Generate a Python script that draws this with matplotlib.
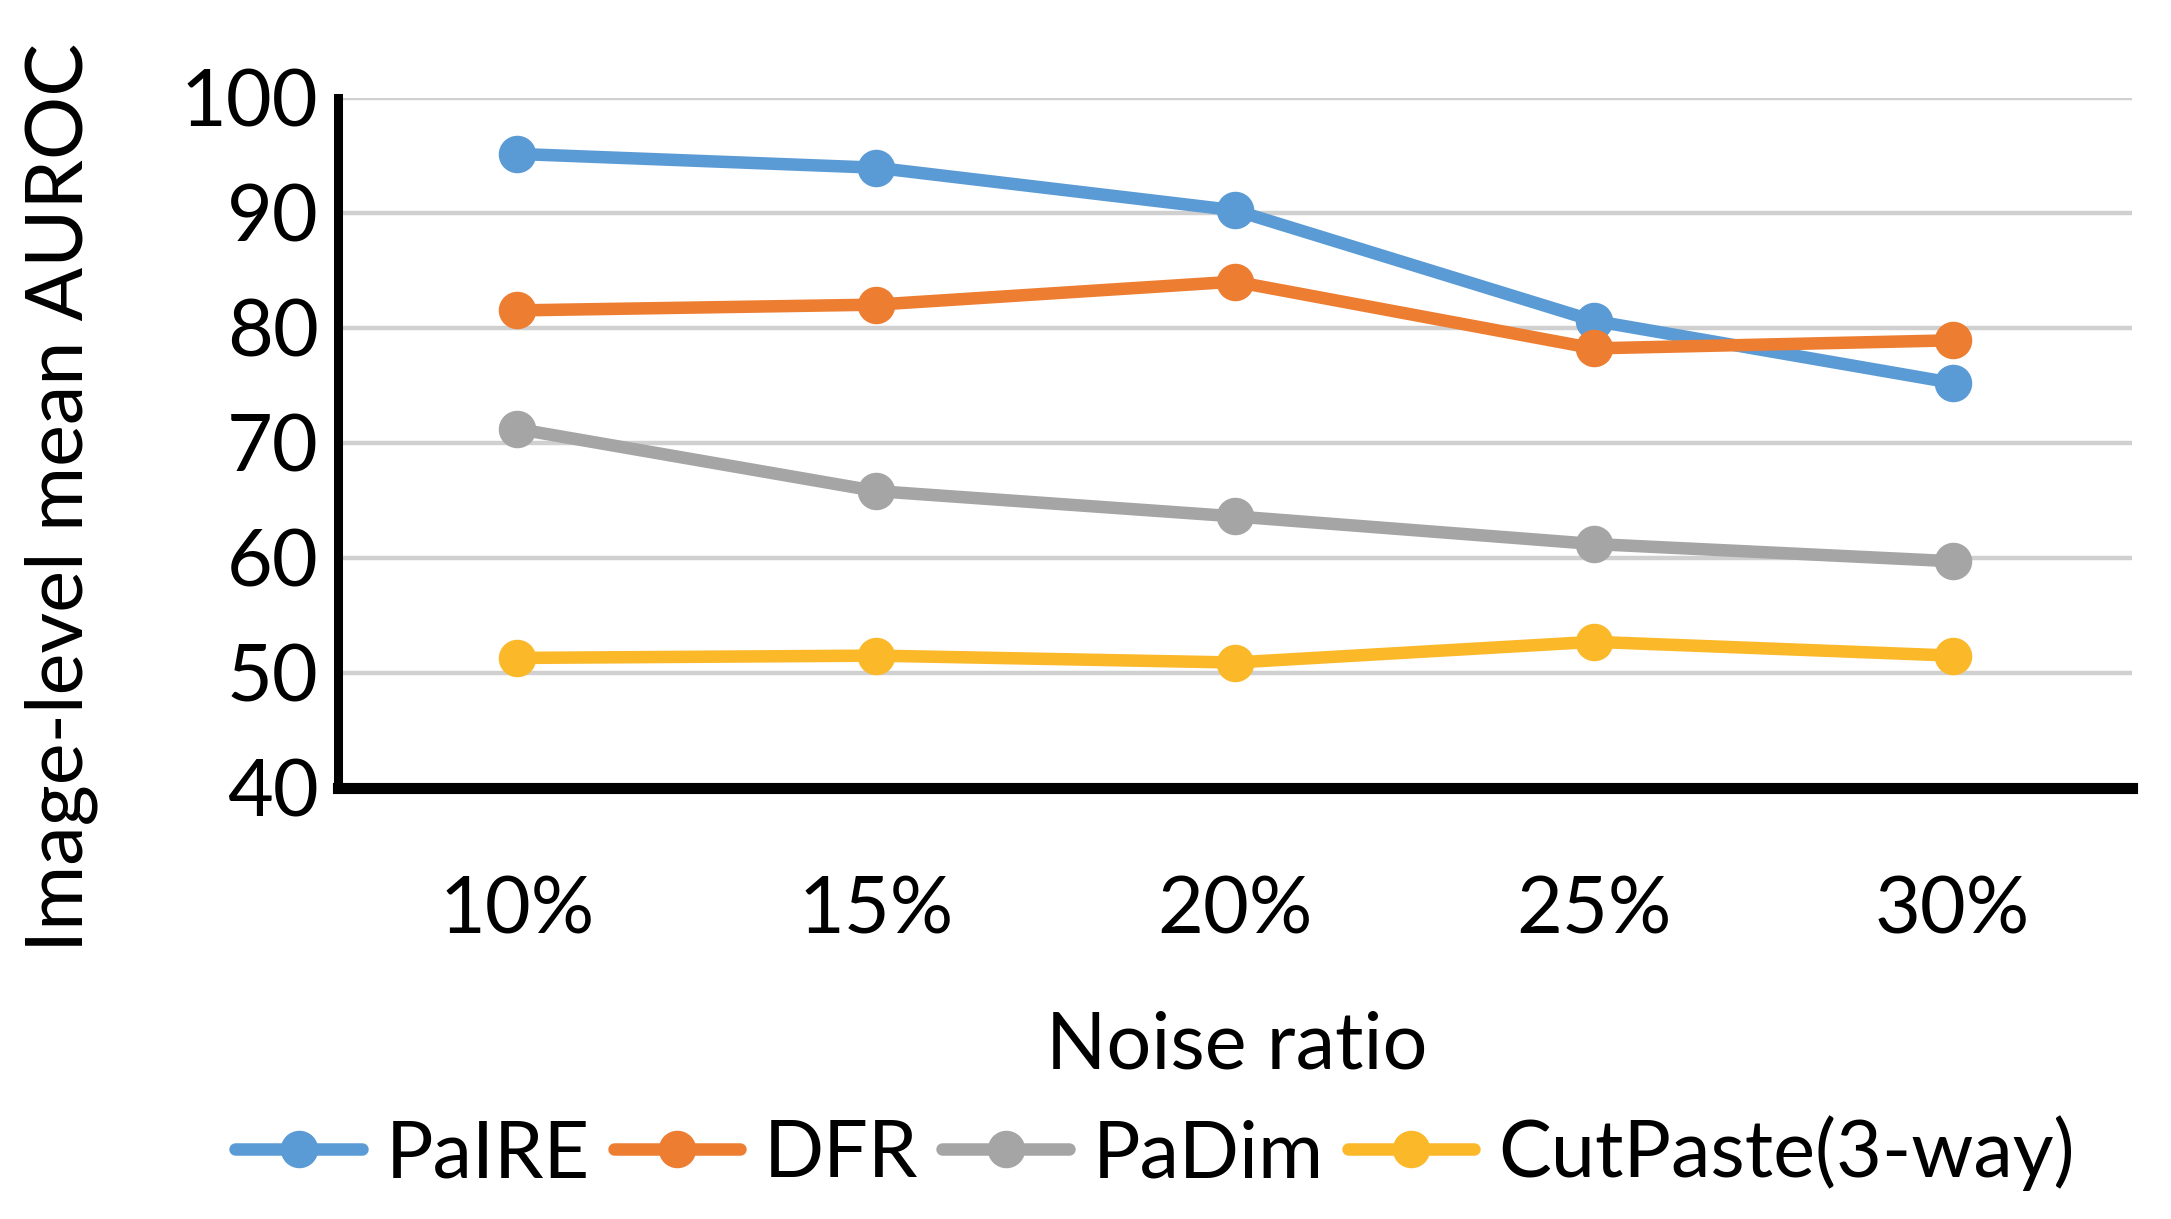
import matplotlib
matplotlib.use("Agg")
import matplotlib.pyplot as plt

categories = ["10%", "15%", "20%", "25%", "30%"]
paire = [95.1, 93.9, 90.2, 80.6, 75.2]
dfr = [81.5, 82.0, 84.0, 78.2, 78.9]
padim = [71.2, 65.8, 63.6, 61.2, 59.7]
cutpaste = [51.3, 51.5, 50.9, 52.7, 51.5]
series_names = ["PaIRE", "DFR", "PaDim", "CutPaste(3-way)"]
colors = ["#5B9BD5", "#ED7D31", "#A5A5A5", "#FBB829"]
yticks = [40, 50, 60, 70, 80, 90, 100]

plt.rcParams['font.family'] = ['Lato', 'DejaVu Sans']
FS = 57

fig = plt.figure(figsize=(21.71, 12.19), dpi=100)
ax = fig.add_axes([0.1557, 0.3536, 0.982 - 0.1557, 0.920 - 0.3536])

x = list(range(len(categories)))
for vals, name, c in zip([paire, dfr, padim, cutpaste], series_names, colors):
    ax.plot(x, vals, color=c, lw=9, marker='o', ms=26, label=name,
            solid_capstyle='round', zorder=3)

ax.set_xlim(-0.5, len(categories) - 0.5)
ax.set_ylim(40, 100)
ax.set_yticks(yticks)
ax.set_xticks(x)
ax.set_xticklabels(categories)
ax.tick_params(axis='both', length=0, labelsize=FS)
ax.tick_params(axis='y', pad=14)
ax.tick_params(axis='x', pad=63)
ax.yaxis.grid(True, color='#D0D0D0', lw=3.2, zorder=0)
ax.set_axisbelow(True)
for s in ['top', 'right']:
    ax.spines[s].set_visible(False)
ax.spines['left'].set_linewidth(6.5)
ax.spines['bottom'].set_linewidth(8)
ax.spines['left'].set_color('black')
ax.spines['bottom'].set_color('black')

ax.set_ylabel("Image-level mean AUROC", fontsize=FS)
ax.yaxis.set_label_coords(-0.134, 0.4215)
ax.set_xlabel("Noise ratio", fontsize=FS)
ax.xaxis.set_label_coords(0.501, -0.322)

leg = fig.legend(loc='center', bbox_to_anchor=(0.532, 0.054), ncol=4, frameon=False,
                 fontsize=FS, handlelength=1.6, handletextpad=0.3, columnspacing=0.3,
                 borderaxespad=0)

fig.savefig("out.png", dpi=100)
